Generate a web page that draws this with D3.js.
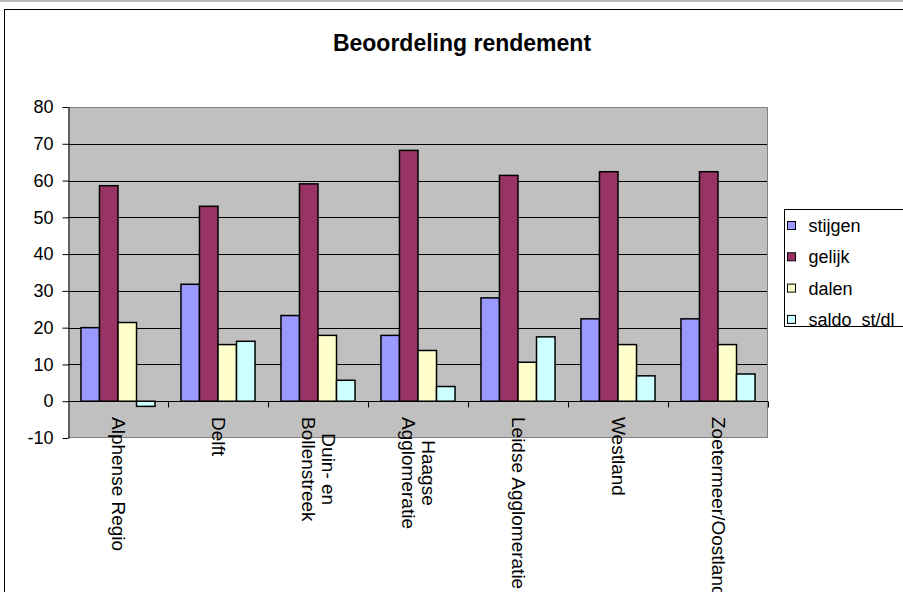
<!DOCTYPE html>
<html>
<head>
<meta charset="utf-8">
<script src="https://cdn.jsdelivr.net/npm/d3@7"></script>
<style>
  body { margin: 0; background: #fff; }
  text { font-family: "Liberation Sans", Arial, sans-serif; }
</style>
</head>
<body>
<div id="chart"></div>
<script>
// Beoordeling rendement - grouped bars per regio

var categories = ["Alphense Regio", "Delft", "Duin- en\nBollenstreek", "Haagse\nAgglomeratie",
    "Leidse Agglomeratie", "Westland", "Zoetermeer/Oostland"];
var seriesNames = ["stijgen", "gelijk", "dalen", "saldo  st/dl"];
var stijgen = [20.0, 31.8, 23.3, 17.9, 28.1, 22.4, 22.4];
var gelijk = [58.6, 53.0, 59.1, 68.2, 61.4, 62.4, 62.4];
var dalen = [21.4, 15.4, 17.9, 13.8, 10.6, 15.4, 15.4];
var saldo = [-1.4, 16.3, 5.7, 4.0, 17.5, 6.9, 7.4];
var yTicks = [-10, 0, 10, 20, 30, 40, 50, 60, 70, 80];

var colors = ["#9999FF", "#993366", "#FFFFCC", "#CCFFFF"];

var svgWidth = 903;
var svgHeight = 592;

// plot area
var margin = {top: 107, left: 68};
var chartWidth = 700;
var chartHeight = 331;

var svg = d3.select("#chart").append("svg")
    .attr("width", svgWidth)
    .attr("height", svgHeight);

// spreadsheet edge + chart frame
svg.append("rect")
    .attr("x", 0).attr("y", 0)
    .attr("width", svgWidth).attr("height", 2)
    .attr("fill", "#b8b8b8");

svg.append("rect")
    .attr("x", 4.5).attr("y", 9.5)
    .attr("width", 1000).attr("height", 800)
    .attr("fill", "#fff")
    .attr("stroke", "#000");

svg.append("text")
    .attr("x", 462)
    .attr("y", 51)
    .attr("text-anchor", "middle")
    .attr("font-size", "23px")
    .attr("font-weight", "bold")
    .text("Beoordeling rendement");

var chartGroup = svg.append("g")
    .attr("transform", `translate(${margin.left}, ${margin.top})`);

var yScale = d3.scaleLinear()
    .domain([-10, 80])
    .range([chartHeight, 0]);

var x0 = d3.scaleBand()
    .domain(categories)
    .range([0, chartWidth]);

var x1 = d3.scaleBand()
    .domain(seriesNames)
    .range([0, x0.bandwidth()])
    .paddingOuter(0.7);

// grey plot background
chartGroup.append("rect")
    .attr("width", chartWidth)
    .attr("height", chartHeight)
    .attr("fill", "#C0C0C0");

// gridlines
chartGroup.selectAll(".grid")
    .data(yTicks.filter(d => d > 0 && d < 80))
    .enter()
    .append("line")
    .attr("x1", 0)
    .attr("x2", chartWidth)
    .attr("y1", d => Math.round(yScale(d)) + 0.5)
    .attr("y2", d => Math.round(yScale(d)) + 0.5)
    .attr("stroke", "#000");

// plot border (top, right, bottom)
chartGroup.append("path")
    .attr("d", `M0,0.5H${chartWidth - 0.5}V${chartHeight - 0.5}H0`)
    .attr("fill", "none")
    .attr("stroke", "#808080");

// bars
var seriesData = [stijgen, gelijk, dalen, saldo];
var groups = chartGroup.selectAll(".group")
    .data(categories)
    .enter()
    .append("g")
    .attr("transform", d => `translate(${x0(d)}, 0)`);

groups.selectAll("rect")
    .data((c, i) => seriesNames.map((s, j) => ({series: s, value: seriesData[j][i], color: colors[j]})))
    .enter()
    .append("rect")
    .attr("x", d => x1(d.series))
    .attr("y", d => yScale(Math.max(0, d.value)))
    .attr("width", x1.bandwidth())
    .attr("height", d => Math.abs(yScale(d.value) - yScale(0)))
    .attr("fill", d => d.color)
    .attr("stroke", "#000")
    .attr("stroke-width", 1.5);

// y axis (plain hyphen for negatives, like the original)
var yAxis = d3.axisLeft(yScale)
    .tickValues(yTicks)
    .tickFormat(d => String(d))
    .tickSize(6)
    .tickSizeOuter(0)
    .tickPadding(9);

var yAxisG = chartGroup.append("g")
    .attr("transform", "translate(0.5, 0)")
    .call(yAxis);
yAxisG.selectAll("text")
    .attr("font-size", "18px")
    .attr("font-family", "Liberation Sans, Arial, sans-serif")
    .attr("fill", "#000");
yAxisG.selectAll("line, path").attr("stroke", "#000");

// x axis along zero with ticks between categories
var zeroY = Math.round(yScale(0)) + 0.5;
chartGroup.append("line")
    .attr("x1", 0)
    .attr("x2", chartWidth)
    .attr("y1", zeroY)
    .attr("y2", zeroY)
    .attr("stroke", "#000");

chartGroup.selectAll(".xtick")
    .data(categories.slice(1).map(c => x0(c)).concat([chartWidth - 0.5]))
    .enter()
    .append("line")
    .attr("x1", d => Math.round(d) + 0.5)
    .attr("x2", d => Math.round(d) + 0.5)
    .attr("y1", zeroY)
    .attr("y2", zeroY + 6)
    .attr("stroke", "#000");

// rotated category labels
var labelSize = 19;
var lineGap = 20;
var labels = chartGroup.selectAll(".xlabel")
    .data(categories)
    .enter()
    .append("text")
    .attr("transform", d => `translate(${x0(d) + x0.bandwidth() / 2}, ${417 - margin.top}) rotate(90)`)
    .attr("font-size", labelSize + "px")
    .attr("fill", "#000");

labels.each(function(d) {
    var lines = d.split("\n");
    var el = d3.select(this);
    var spans = lines.map((t, i) => el.append("tspan")
        .attr("x", 0)
        .attr("y", (i - (lines.length - 1) / 2) * lineGap + labelSize * 0.33)
        .text(t));
    var maxLen = d3.max(spans, s => s.node().getComputedTextLength());
    spans.forEach(s => s.attr("x", (maxLen - s.node().getComputedTextLength()) / 2));
});

// legend
var legend = svg.append("g")
    .attr("transform", "translate(784.5, 209.5)");

legend.append("rect")
    .attr("width", 200)
    .attr("height", 117)
    .attr("fill", "#fff")
    .attr("stroke", "#000");

var legendItems = legend.selectAll(".item")
    .data(seriesNames)
    .enter()
    .append("g")
    .attr("transform", (d, i) => `translate(0, ${16 + i * 31.3})`);

legendItems.append("rect")
    .attr("x", 3)
    .attr("y", -4)
    .attr("width", 8)
    .attr("height", 8)
    .attr("fill", (d, i) => colors[i])
    .attr("stroke", "#000");

legendItems.append("text")
    .attr("x", 24)
    .attr("y", 6.5)
    .attr("font-size", "18px")
    .style("white-space", "pre")
    .text(d => d);
</script>
</body>
</html>
